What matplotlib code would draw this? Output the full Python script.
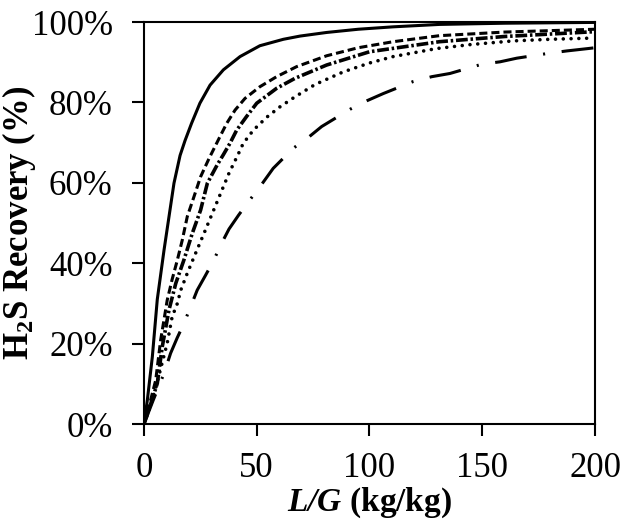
import matplotlib

matplotlib.use("Agg")
import matplotlib.pyplot as plt  # noqa: E402
from matplotlib.ticker import PercentFormatter  # noqa: E402

# values (L/G in kg/kg, recovery in %)
solid_x = [0, 1.5, 3.7, 5.9, 8.9, 11.1, 13.3, 16, 18.2, 21.1, 24.8, 29.3, 35.2, 42.6, 51.4,
           61.8, 69.2, 81, 95, 110.5, 131, 160, 200]
solid_y = [0, 6, 16.7, 31, 43.3, 51.6, 59.9, 66.8, 70.5, 74.8, 79.8, 84.3, 88.1, 91.4, 94.1,
           95.7, 96.5, 97.4, 98.2, 98.8, 99.4, 99.7, 99.9]

dashed_x = [0, 2.5, 5.2, 7.4, 10.3, 12.5, 14.8, 17, 19.2, 22.2, 25.1, 28.8, 33.7, 36.7, 40.4,
            44.8, 51.4, 58.8, 67.7, 81, 95, 110.5, 131, 160, 200]
dashed_y = [0, 5, 10.9, 20.9, 30.8, 36, 40.8, 45.8, 51.6, 56.6, 61.5, 66, 71.5, 74.8, 78.1,
            81, 83.9, 86.4, 88.9, 91.6, 93.6, 95.1, 96.6, 97.5, 98.2]

dashdot2_x = [0, 3, 5.9, 8.1, 11.1, 14.1, 17.7, 21.4, 25.1, 28.1, 32.5, 35.2, 38.1, 41.1,
              45.5, 50, 58.8, 67, 81, 100, 131, 160, 200]
dashdot2_y = [0, 5, 10.1, 19.2, 28.4, 35, 40.8, 47.4, 53.2, 59.9, 64.5, 67, 69.8, 73.1,
              76.5, 79.8, 83.5, 86, 89.3, 92.6, 95.1, 96.4, 97.6]

dotted_x = [0, 2.5, 5, 7.5, 10.3, 12.5, 14.8, 16.3, 19.2, 22.9, 26.6, 30.3, 34, 37.7, 41.6,
            44, 48.5, 54.4, 60.3, 67, 76, 88.4, 100, 110.5, 129.8, 145, 163.8, 180, 199]
dotted_y = [0, 4, 8.5, 14, 20.1, 26.7, 30, 33.3, 37.5, 42.5, 47.4, 52.4, 57.4, 62.4, 66.9,
            69.8, 73.1, 76.3, 78.9, 81.4, 84.5, 87.6, 89.8, 91.4, 93.4, 94.4, 95.3, 95.7, 96]

dashdot_x = [0, 4, 8.9, 11.8, 14.7, 17.7, 20.7, 23.6, 27.3, 31, 34, 37.7, 42, 46.6, 51.4,
             57.3, 66.2, 72.9, 78.8, 91.4, 98.8, 106.1, 119.4, 127.6, 135.7, 149.8, 157.9,
             165.3, 179.3, 187.4, 197, 200]
dashdot_y = [0, 5.8, 12.6, 17.6, 21.4, 25, 29.2, 33.3, 37, 40.8, 44.5, 48.5, 52, 55.5, 59,
             63.6, 68.6, 71.3, 74, 78.3, 80.4, 82.2, 85.2, 86.4, 87.2, 89.5, 90.1,
             91, 92.2, 92.8, 93.4, 93.6]

x_ticks = [0, 50, 100, 150, 200]
y_ticks = [0, 20, 40, 60, 80, 100]

plt.rcParams["font.family"] = ["Liberation Serif", "DejaVu Serif"]
plt.rcParams["mathtext.fontset"] = "custom"
plt.rcParams["mathtext.rm"] = "Liberation Serif"
plt.rcParams["mathtext.bf"] = "Liberation Serif:bold"
plt.rcParams["mathtext.it"] = "Liberation Serif:italic"
plt.rcParams["mathtext.bfit"] = "Liberation Serif:italic:bold"
plt.rcParams["lines.scale_dashes"] = False

fig = plt.figure(figsize=(6.26, 5.19), dpi=100)
ax = fig.add_axes([0.230, 0.183, 0.7205, 0.7746])

lw = 2.2
ax.plot(solid_x, solid_y, color="black", lw=lw, solid_capstyle="butt",
        solid_joinstyle="round")
ax.plot(dashed_x, dashed_y, color="black", lw=lw, dashes=(5.8, 2.9))
ax.plot(dashdot2_x, dashdot2_y, color="black", lw=lw + 0.4, dashes=(8.5, 2.0, 1.8, 2.0))
ax.plot(dotted_x, dotted_y, color="black", lw=2.6, dashes=(0.01, 5.6),
        dash_capstyle="round")
ax.plot(dashdot_x, dashdot_y, color="black", lw=lw, dashes=(23, 12, 1.5, 12))

ax.set_xlim(0, 200)
ax.set_ylim(0, 100)
ax.set_xticks(x_ticks)
ax.set_yticks(y_ticks)
ax.yaxis.set_major_formatter(PercentFormatter(decimals=0))

for s in ax.spines.values():
    s.set_linewidth(1.5)
ax.tick_params(axis="both", direction="out", length=8.5, width=1.5,
               labelsize=25, pad=12)
ax.tick_params(axis="y", pad=14)

ax.set_xlabel(r"$\mathbfit{L/G}$ (kg/kg)", fontsize=24, fontweight="bold")
ax.set_ylabel(r"H$_\mathbf{2}$S Recovery (%)", fontsize=25, fontweight="bold")
ax.xaxis.set_label_coords(0.5, -0.152)
ax.yaxis.set_label_coords(-0.236, 0.5)

fig.savefig("out.png", dpi=100)
